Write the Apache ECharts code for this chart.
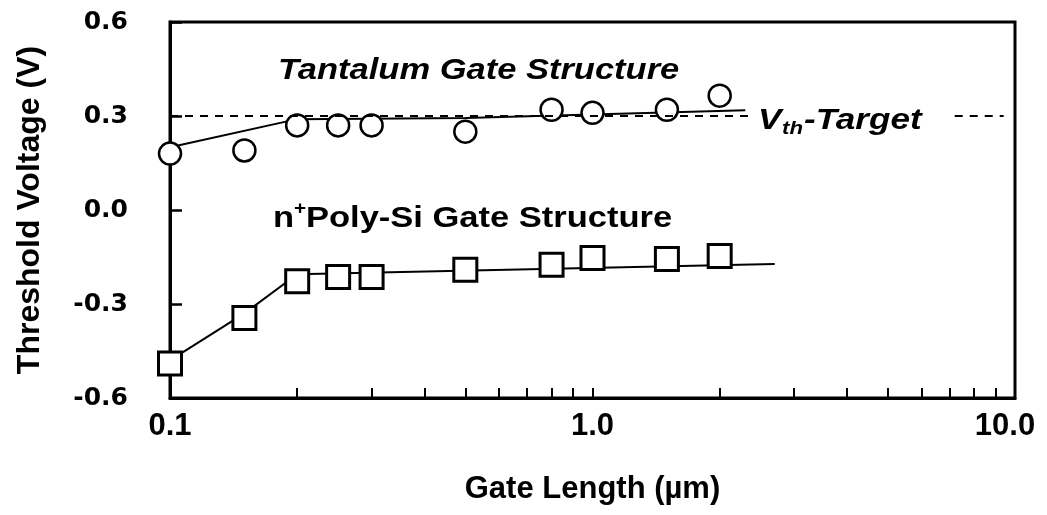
<!DOCTYPE html>
<html>
<head>
<meta charset="utf-8">
<script src="https://cdn.jsdelivr.net/npm/echarts@6/dist/echarts.min.js"></script>
<style>
  html, body { margin: 0; padding: 0; background: #fff; }
  #chart { width: 1047px; height: 515px; }
</style>
</head>
<body>
<div id="chart"></div>
<script>
// Gate lengths (µm) of the measured devices
const gateLength = [0.1, 0.15, 0.2, 0.25, 0.3, 0.5, 0.8, 1.0, 1.5, 2.0];
// Threshold voltage (V), tantalum gate devices
const tantalumVth = [0.18, 0.19, 0.27, 0.27, 0.27, 0.25, 0.32, 0.31, 0.32, 0.365];
// Threshold voltage (V), n+ poly-Si gate devices
const polySiVth = [-0.49, -0.345, -0.227, -0.214, -0.214, -0.191, -0.175, -0.153, -0.156, -0.147];
// Hand-drawn guide lines through each data set: [gate length, Vth]
const tantalumTrend = [[0.1, 0.2], [0.2, 0.29], [0.5, 0.294], [2.3, 0.318]];
const polySiTrend = [[0.1, -0.48], [0.15, -0.33], [0.2, -0.205], [2.7, -0.172]];
// Target threshold voltage and the gate-length spans where its dashed line is drawn
const vthTarget = 0.3;
const targetSpans = [[0.1, 2.4], [7.2, 9.4]];
// Axis ranges
const xRange = [0.1, 10];
const yRange = [-0.6, 0.6];
const yStep = 0.3;

const pair = (xs, ys) => xs.map((x, i) => [x, ys[i]]);

const chart = echarts.init(document.getElementById('chart'), null, { renderer: 'canvas' });

const boldSans = '"Liberation Sans", Arial, sans-serif';

chart.setOption({
  animation: false,
  backgroundColor: '#fff',
  grid: {
    left: 170, right: 32, top: 22, bottom: 117,
    show: true, borderColor: '#000', borderWidth: 3, backgroundColor: 'transparent'
  },
  xAxis: {
    type: 'log',
    logBase: 10,
    min: xRange[0],
    max: xRange[1],
    name: 'Gate Length (µm)',
    nameLocation: 'middle',
    nameGap: 76,
    nameTextStyle: { fontFamily: boldSans, fontWeight: 'bold', fontSize: 31, color: '#000' },
    axisLine: { onZero: false, lineStyle: { color: '#000', width: 3 } },
    axisTick: { inside: true, length: 10, lineStyle: { color: '#000', width: 2 } },
    minorTick: { show: true, splitNumber: 9, length: 10, lineStyle: { color: '#000', width: 2 } },
    splitLine: { show: false },
    minorSplitLine: { show: false },
    axisLabel: {
      margin: 13,
      fontFamily: boldSans, fontWeight: 'bold', fontSize: 31, color: '#000',
      formatter: v => v >= 10 ? '{r|' + v.toFixed(1) + '}' : v.toFixed(1),
      rich: { r: { fontFamily: boldSans, fontWeight: 'bold', fontSize: 31, color: '#000', padding: [0, 20, 0, 0] } }
    }
  },
  yAxis: {
    type: 'value',
    min: yRange[0],
    max: yRange[1],
    interval: yStep,
    name: 'Threshold Voltage (V)',
    nameLocation: 'middle',
    nameGap: 124,
    nameTextStyle: { fontFamily: boldSans, fontWeight: 'bold', fontSize: 32, color: '#000' },
    axisLine: { onZero: false, lineStyle: { color: '#000', width: 3 } },
    axisTick: { inside: true, length: 12, lineStyle: { color: '#000', width: 2.5 } },
    splitLine: { show: false },
    axisLabel: {
      margin: 42,
      padding: [8, 0, 0, 0],
      fontFamily: '"DejaVu Sans", sans-serif', fontWeight: 'bold', fontSize: 25, color: '#000',
      formatter: v => v.toFixed(1)
    }
  },
  series: [
    {
      name: 'Tantalum trend',
      type: 'line',
      data: tantalumTrend,
      symbol: 'none',
      lineStyle: { color: '#000', width: 2 },
      z: 2,
      markLine: {
        silent: true,
        symbol: 'none',
        label: { show: false },
        lineStyle: { color: '#000', width: 2, type: [8, 7] },
        data: targetSpans.map(([a, b]) => [{ coord: [a, vthTarget] }, { coord: [b, vthTarget] }])
      }
    },
    {
      name: 'Poly-Si trend',
      type: 'line',
      data: polySiTrend,
      symbol: 'none',
      lineStyle: { color: '#000', width: 2 },
      z: 2
    },
    {
      name: 'Tantalum Gate Structure',
      type: 'scatter',
      data: pair(gateLength, tantalumVth),
      symbol: 'circle',
      symbolSize: 22,
      itemStyle: { color: '#fff', borderColor: '#000', borderWidth: 2.5, opacity: 1 },
      z: 4
    },
    {
      name: 'n+Poly-Si Gate Structure',
      type: 'scatter',
      data: pair(gateLength, polySiVth),
      symbol: 'rect',
      symbolSize: 23,
      itemStyle: { color: '#fff', borderColor: '#000', borderWidth: 3, opacity: 1 },
      z: 4
    }
  ],
  graphic: [
    {
      type: 'text', x: 278, y: 71, scaleX: 1.15, z: 10,
      style: { text: 'Tantalum Gate Structure', fontFamily: boldSans, fontWeight: 'bold', fontStyle: 'italic', fontSize: 30, fill: '#000', align: 'left', verticalAlign: 'middle' }
    },
    {
      type: 'text', x: 273, y: 219, scaleX: 1.15, z: 10,
      style: { text: 'n', fontFamily: boldSans, fontWeight: 'bold', fontSize: 30, fill: '#000', align: 'left', verticalAlign: 'middle' }
    },
    {
      type: 'text', x: 294, y: 209, scaleX: 1.15, z: 10,
      style: { text: '+', fontFamily: boldSans, fontWeight: 'bold', fontSize: 18, fill: '#000', align: 'left', verticalAlign: 'middle' }
    },
    {
      type: 'text', x: 306, y: 219, scaleX: 1.15, z: 10,
      style: { text: 'Poly-Si Gate Structure', fontFamily: boldSans, fontWeight: 'bold', fontSize: 30, fill: '#000', align: 'left', verticalAlign: 'middle' }
    },
    {
      type: 'text', x: 758, y: 121, scaleX: 1.17, z: 10,
      style: { text: 'V', fontFamily: boldSans, fontWeight: 'bold', fontStyle: 'italic', fontSize: 30, fill: '#000', align: 'left', verticalAlign: 'middle' }
    },
    {
      type: 'text', x: 782, y: 129, scaleX: 1.17, z: 10,
      style: { text: 'th', fontFamily: boldSans, fontWeight: 'bold', fontStyle: 'italic', fontSize: 19, fill: '#000', align: 'left', verticalAlign: 'middle' }
    },
    {
      type: 'text', x: 804, y: 121, scaleX: 1.17, z: 10,
      style: { text: '-Target', fontFamily: boldSans, fontWeight: 'bold', fontStyle: 'italic', fontSize: 30, fill: '#000', align: 'left', verticalAlign: 'middle' }
    }
  ]
});
</script>
</body>
</html>
